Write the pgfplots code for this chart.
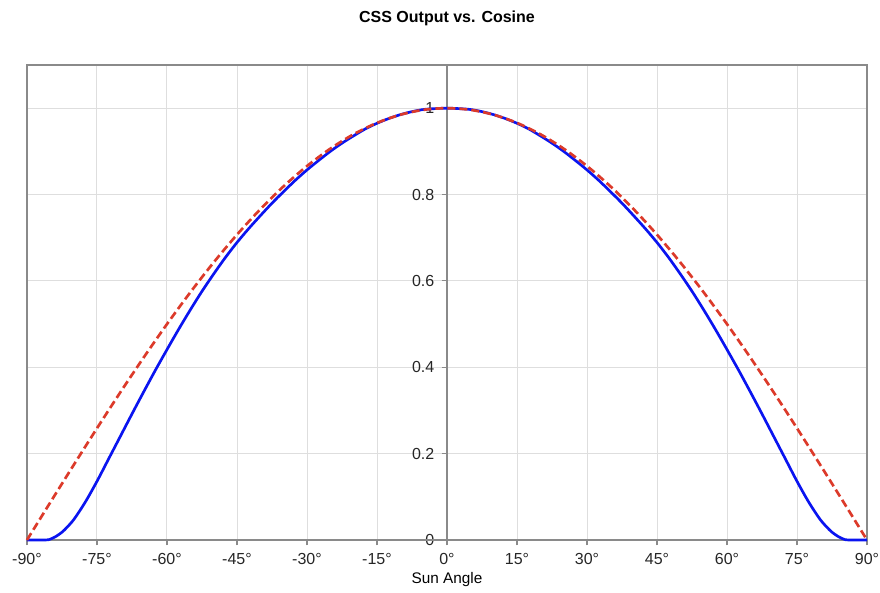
\documentclass[border=0pt]{standalone}
\usepackage{pgfplots}
\pgfplotsset{compat=1.18}
\usepackage{fontspec}
\setmainfont{Liberation Sans}
\definecolor{cssblue}{HTML}{0A14F0}
\definecolor{cosred}{HTML}{DC3A2A}
\definecolor{gridgray}{HTML}{DEDEDE}
\definecolor{framegray}{HTML}{8A8A8A}
\definecolor{axisdark}{HTML}{555555}

\begin{document}
\begin{tikzpicture}
  \begin{axis}[scale only axis, width=630pt, height=356.25pt,
      xmin=-90, xmax=90, ymin=0, ymax=1.1,
      axis x line=bottom, axis y line=middle,
      hide obscured x ticks=false, hide obscured y ticks=false,
      x axis line style={axisdark, line width=1.4pt, -},
      y axis line style={framegray, line width=1pt, -},
      xtick={-90,-75,...,90},
      xticklabels={-90°,-75°,-60°,-45°,-30°,-15°,0°,15°,30°,45°,60°,75°,90°},
      ytick={0,0.2,0.4,0.6,0.8,1},
      yticklabels={0,0.2,0.4,0.6,0.8,1},
      xtick align=outside, ytick align=outside,
      major tick length=4pt,
      tick style={framegray, line width=0.8pt},
      grid=major, major grid style={gridgray, line width=0.75pt},
      tick label style={font=\fontsize{12}{14}\selectfont, text=black!85},
      x tick label style={yshift=-2.5pt},
      y tick label style={xshift=-2pt},
      /pgf/number format/assume math mode=true,
      xlabel={Sun Angle},
      every axis x label/.style={at={(axis description cs:0.5,0)}, anchor=center, yshift=-30pt,
        font=\fontsize{11.5}{13}\selectfont},
      title={\textbf{CSS Output vs. Cosine}},
      every axis title/.style={at={(axis description cs:0.5,1)}, anchor=center, yshift=35.25pt,
        font=\fontsize{12}{14}\selectfont},
      clip=false]
    \draw[framegray, line width=1pt] (rel axis cs:0,0) rectangle (rel axis cs:1,1);
    \coordinate (bl) at (rel axis cs:0,0);
    \coordinate (tr) at (rel axis cs:1,1);
    % CSS output
    \addplot[cssblue, line width=2pt, smooth] coordinates {
      (-90,0) (-86,0) (-85,0.002) (-84,0.007) (-83,0.014) (-82,0.023) (-80,0.047)
      (-77.5,0.088) (-75,0.136) (-72.5,0.188) (-70,0.24) (-67.5,0.292) (-65,0.343)
      (-62.5,0.393) (-60,0.441) (-57.5,0.488) (-55,0.533) (-52.5,0.576) (-50,0.616)
      (-47.5,0.654) (-45,0.689) (-42.5,0.721) (-40,0.751) (-37.5,0.780) (-35,0.807)
      (-32.5,0.833) (-30,0.857) (-27.5,0.879) (-25,0.9) (-22.5,0.919) (-20,0.936)
      (-17.5,0.952) (-15,0.965) (-12.5,0.976) (-10,0.985) (-7.5,0.992) (-5,0.997)
      (-2.5,0.999) (0,1)
      (2.5,0.999) (5,0.997) (7.5,0.992) (10,0.985) (12.5,0.976) (15,0.965)
      (17.5,0.952) (20,0.936) (22.5,0.919) (25,0.9) (27.5,0.879) (30,0.857)
      (32.5,0.833) (35,0.807) (37.5,0.780) (40,0.751) (42.5,0.721) (45,0.689)
      (47.5,0.654) (50,0.616) (52.5,0.576) (55,0.533) (57.5,0.488) (60,0.441)
      (62.5,0.393) (65,0.343) (67.5,0.292) (70,0.24) (72.5,0.188) (75,0.136)
      (77.5,0.088) (80,0.047) (82,0.023) (83,0.014) (84,0.007) (85,0.002)
      (86,0) (90,0)};
    % cosine
    \addplot[cosred, line width=2pt, dash pattern=on 6pt off 3pt, smooth] coordinates {
      (-90,0) (-85,0.0872) (-80,0.1736) (-75,0.2588) (-70,0.3420) (-65,0.4226)
      (-60,0.5) (-55,0.5736) (-50,0.6428) (-45,0.7071) (-40,0.7660) (-35,0.8192)
      (-30,0.8660) (-25,0.9063) (-20,0.9397) (-15,0.9659) (-10,0.9848) (-5,0.9962)
      (0,1) (5,0.9962) (10,0.9848) (15,0.9659) (20,0.9397) (25,0.9063) (30,0.8660)
      (35,0.8192) (40,0.7660) (45,0.7071) (50,0.6428) (55,0.5736) (60,0.5)
      (65,0.4226) (70,0.3420) (75,0.2588) (80,0.1736) (85,0.0872) (90,0)};
  \end{axis}
  \pgfresetboundingbox
  \path ([xshift=-20.25pt,yshift=-39.75pt]bl) rectangle ([xshift=9.75pt,yshift=48.75pt]tr);
\end{tikzpicture}
\end{document}
